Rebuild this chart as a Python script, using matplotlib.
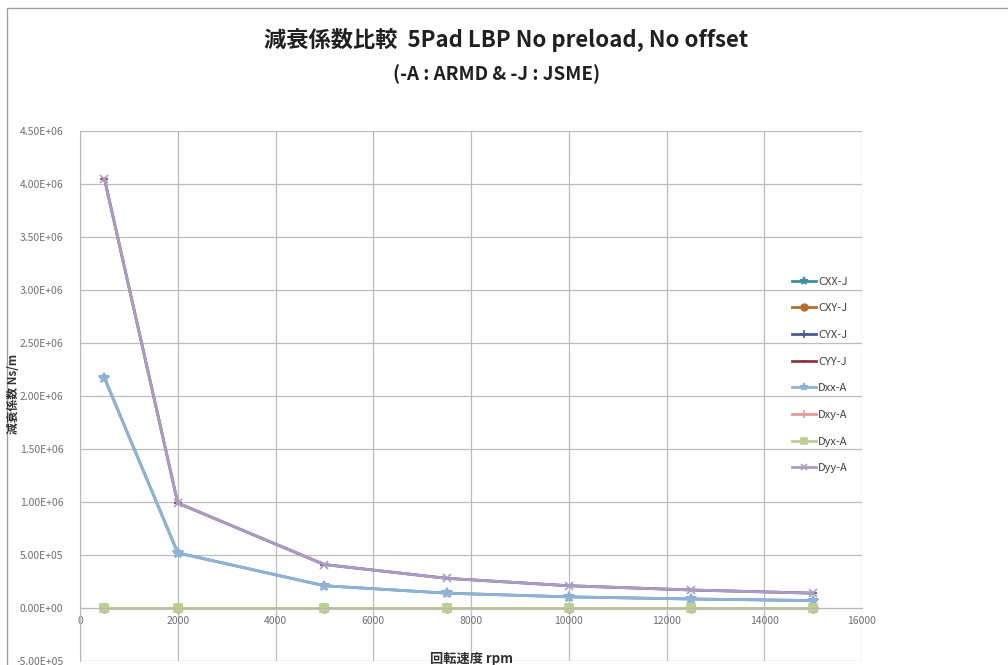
import matplotlib
matplotlib.use("Agg")
import matplotlib.pyplot as plt
from matplotlib.ticker import FuncFormatter, MultipleLocator
from matplotlib.patches import Rectangle

plt.rcParams['font.family'] = ['Noto Sans CJK JP', 'DejaVu Sans']

# Rotor speed (rpm)
speed = [500, 2000, 5000, 7500, 10000, 12500, 15000]

# Damping coefficients (Ns/m): JSME results
cxx_j = [2.17e6, 5.2e5, 2.1e5, 1.4e5, 1.05e5, 8.5e4, 7.0e4]
cxy_j = [0, 0, 0, 0, 0, 0, 0]
cyx_j = [0, 0, 0, 0, 0, 0, 0]
cyy_j = [4.05e6, 9.9e5, 4.1e5, 2.8e5, 2.1e5, 1.7e5, 1.4e5]

# Damping coefficients (Ns/m): ARMD results
dxx_a = [2.17e6, 5.2e5, 2.1e5, 1.4e5, 1.05e5, 8.5e4, 7.0e4]
dxy_a = [0, 0, 0, 0, 0, 0, 0]
dyx_a = [0, 0, 0, 0, 0, 0, 0]
dyy_a = [4.05e6, 9.9e5, 4.1e5, 2.8e5, 2.1e5, 1.7e5, 1.4e5]

series_names = ["CXX-J", "CXY-J", "CYX-J", "CYY-J", "Dxx-A", "Dxy-A", "Dyx-A", "Dyy-A"]
series_values = [cxx_j, cxy_j, cyx_j, cyy_j, dxx_a, dxy_a, dyx_a, dyy_a]
colors = ["#3f8fa0", "#b8692e", "#4a5a8e", "#8a3a3e",
          "#8fb2d6", "#e29c9a", "#bccf92", "#a99cc6"]
markers = ["*", "o", "+", "_", "*", "+", "s", "x"]
msizes = [7, 6, 7, 6, 7, 7, 6, 6]

fig = plt.figure(figsize=(10.08, 6.65), dpi=100)

# Chart frame
fig.patches.append(Rectangle((7 / 1008, -0.01), 1.2, 1.0 - 8 / 665 + 0.01,
                             transform=fig.transFigure, fill=False,
                             edgecolor="#a0a0a0", linewidth=1.0))

ax = fig.add_axes([80 / 1008, 4 / 665, 782 / 1008, 530 / 665])

for name, vals, c, m, ms in zip(series_names, series_values, colors, markers, msizes):
    ax.plot(speed, vals, color=c, marker=m, markersize=ms, linewidth=2.0,
            markeredgewidth=1.2, label=name)

ax.set_xlim(0, 16000)
ax.set_ylim(-5e5, 4.5e6)
ax.xaxis.set_major_locator(MultipleLocator(2000))
ax.yaxis.set_major_locator(MultipleLocator(5e5))
ax.yaxis.set_major_formatter(FuncFormatter(lambda v, p: f"{v:.2E}"))

ax.grid(True, color="#bcbcbc", linewidth=0.9)
ax.set_axisbelow(True)
for s in ["top", "right"]:
    ax.spines[s].set_visible(False)
ax.spines["bottom"].set_position(("data", 0))
ax.spines["bottom"].set_color("#b8b8b8")
ax.spines["left"].set_color("#b8b8b8")
ax.tick_params(axis="both", length=0, labelsize=7.5, labelcolor="#707070")
ax.tick_params(axis="x", pad=6)
ax.tick_params(axis="y", pad=12)

fig.text(14 / 1008, 1 - 394 / 665, "減衰係数 Ns/m", rotation=90, ha="center",
         va="center", fontsize=8.5, fontweight="bold", color="#303030")
fig.text(471 / 1008, 1 - 659 / 665, "回転速度 rpm", ha="center", va="center",
         fontsize=9.5, fontweight="bold", color="#303030")

fig.text(506 / 1008, 1 - 40 / 665, "減衰係数比較  5Pad LBP No preload, No offset",
         ha="center", va="center", fontsize=16, fontweight="bold", color="#202020")
fig.text(497 / 1008, 1 - 74 / 665, "(-A : ARMD & -J : JSME)",
         ha="center", va="center", fontsize=13.5, fontweight="bold", color="#202020")

leg = fig.legend(loc="center left", bbox_to_anchor=(782 / 1008, 1 - 375 / 665),
                 frameon=False, fontsize=8, labelspacing=1.5, handlelength=2.2,
                 handletextpad=0.15, markerscale=0.8)
for t in leg.get_texts():
    t.set_color("#404040")

fig.savefig("out.png", dpi=100)
